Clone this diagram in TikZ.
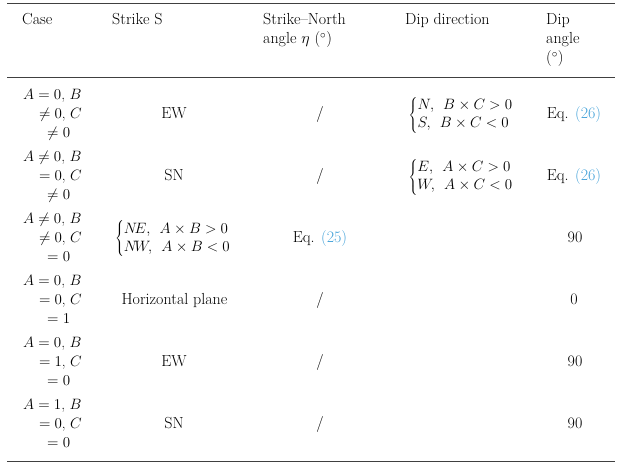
\RequirePackage{fix-cm}
\documentclass[tikz,border=0pt]{standalone}
\usepackage{color}
\definecolor{linkblue}{RGB}{64,160,216}
\newcommand{\tabfont}{\fontsize{16}{19}\selectfont}
\newcommand{\mathtabfont}{\fontsize{15}{19}\selectfont}
\newcommand{\twocase}[2]{$\def\arraystretch{0.95}\left\{\begin{array}{@{}l@{}}#1\\#2\end{array}\right.$}
\newcommand{\eqlink}[1]{Eq. \textcolor{linkblue}{(#1)}}
\tikzstyle{cell} = [inner sep=0pt, anchor=base, font=\tabfont, text=black]
\tikzstyle{cellw} = [cell, anchor=base west]
\tikzstyle{mcell} = [cell, font=\mathtabfont]
\tikzstyle{mcellw} = [mcell, anchor=base west]
\tikzstyle{mcelle} = [mcell, anchor=base east]
\tikzstyle{hrule} = [draw=black!75, line width=0.9pt]
\begin{document}
\begin{tikzpicture}[x=1pt,y=-1pt]
		\useasboundingbox (0,0) rectangle (620,470);
		% rules
		\coordinate (tl) at (7,3);
		\coordinate (tr) at (615,3);
		\coordinate (ml) at (7,77);
		\coordinate (mr) at (615,77);
		\coordinate (bl) at (7,461);
		\coordinate (br) at (615,461);
		\draw [hrule] (tl) -- (tr);
		\draw [hrule] (ml) -- (mr);
		\draw [hrule] (bl) -- (br);
		
		% header
		\node (hcase) [cellw] at (22,25) {Case};
		\node (hstrike) [cellw] at (112,25) {Strike S};
		\node (hangle) [cellw] at (263,25) {Strike–North};
		\node (hangle2) [cellw] at (263,44) {angle $\eta$ ($^\circ$)};
		\node (hdir) [cellw] at (405,25) {Dip direction};
		\node (hdip) [cellw] at (546,25) {Dip};
		\node (hdip2) [cellw] at (546,44) {angle};
		\node (hdip3) [cellw] at (546,63) {($^\circ$)};
		
		% row 1
		\node (c1a) [mcellw] at (23,100) {$A=0$, $B$};
		\node (c1b) [mcelle] at (82,119) {$\neq 0$, $C$};
		\node (c1c) [mcellw] at (47,138) {$\neq 0$};
		\node (s1) [cell] at (174,119) {EW};
		\node (n1) [cell] at (320,119) {/};
		\node (d1) [mcell] at (461,119) {\twocase{N,\;\, B\times C>0}{S,\;\, B\times C<0}};
		\node (a1) [cell] at (574,119) {\eqlink{26}};
		
		% row 2
		\node (c2a) [mcellw] at (23,161.8) {$A\neq 0$, $B$};
		\node (c2b) [mcelle] at (82,180.8) {$=0$, $C$};
		\node (c2c) [mcellw] at (47,199.8) {$\neq 0$};
		\node (s2) [cell] at (174,180.8) {SN};
		\node (n2) [cell] at (320,180.8) {/};
		\node (d2) [mcell] at (461,180.8) {\twocase{E,\;\, A\times C>0}{W,\;\, A\times C<0}};
		\node (a2) [cell] at (574,180.8) {\eqlink{26}};
		
		% row 3
		\node (c3a) [mcellw] at (23,223.6) {$A\neq 0$, $B$};
		\node (c3b) [mcelle] at (82,242.6) {$\neq 0$, $C$};
		\node (c3c) [mcellw] at (47,261.6) {$=0$};
		\node (s3) [mcell] at (173,242.6) {\twocase{N\!E,\;\, A\times B>0}{N\!W,\;\, A\times B<0}};
		\node (n3) [cell] at (320,242.6) {\eqlink{25}};
		\node (a3) [cell] at (575,242.6) {90};
		
		% row 4
		\node (c4a) [mcellw] at (23,285.4) {$A=0$, $B$};
		\node (c4b) [mcelle] at (82,304.4) {$=0$, $C$};
		\node (c4c) [mcellw] at (47,323.4) {$=1$};
		\node (s4) [cell] at (174.5,304.4) {Horizontal plane};
		\node (n4) [cell] at (320,304.4) {/};
		\node (a4) [cell] at (574,304.4) {0};
		
		% row 5
		\node (c5a) [mcellw] at (23,347.2) {$A=0$, $B$};
		\node (c5b) [mcelle] at (82,366.2) {$=1$, $C$};
		\node (c5c) [mcellw] at (47,385.2) {$=0$};
		\node (s5) [cell] at (174,366.2) {EW};
		\node (n5) [cell] at (320,366.2) {/};
		\node (a5) [cell] at (575,366.2) {90};
		
		% row 6
		\node (c6a) [mcellw] at (23,409) {$A=1$, $B$};
		\node (c6b) [mcelle] at (82,428) {$=0$, $C$};
		\node (c6c) [mcellw] at (47,447) {$=0$};
		\node (s6) [cell] at (174,428) {SN};
		\node (n6) [cell] at (320,428) {/};
		\node (a6) [cell] at (575,428) {90};
	\end{tikzpicture}
\end{document}
